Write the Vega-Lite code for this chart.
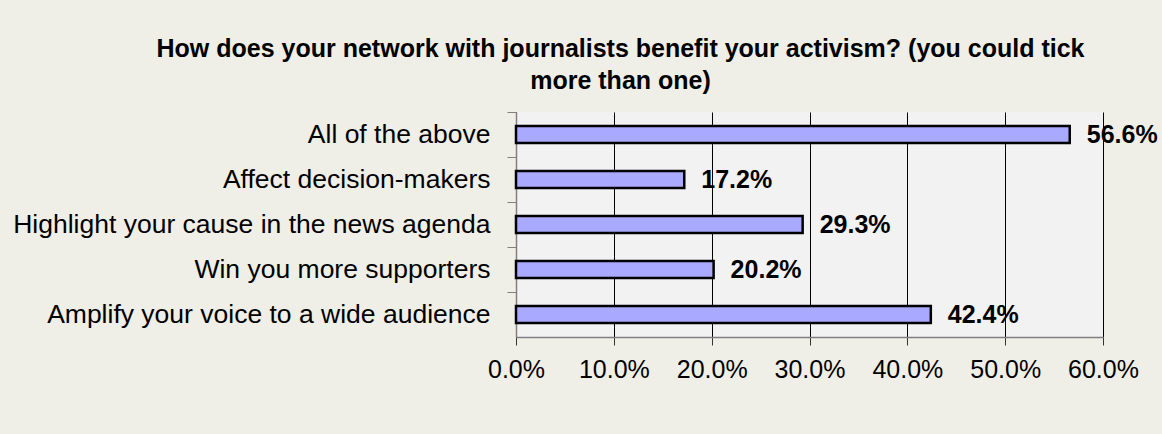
{
  "$schema": "https://vega.github.io/schema/vega-lite/v6.json",
  "autosize": "none",
  "width": 587,
  "height": 225,
  "padding": {"left": 516, "top": 112, "right": 59, "bottom": 97},
  "background": "#EFEEE7",
  "title": {
    "text": ["How does your network with journalists benefit your activism? (you could tick", "more than one)"],
    "font": "Liberation Sans",
    "fontSize": 25,
    "fontWeight": "bold",
    "color": "#000000",
    "anchor": "middle",
    "frame": "group",
    "dx": -189,
    "offset": 18,
    "lineHeight": 32
  },
  "config": {
    "view": {"fill": "#F2F2F2", "stroke": null},
    "font": "Liberation Sans"
  },
  "data": {
    "values": [
      {"answer": "All of the above", "share": 0.566},
      {"answer": "Affect decision-makers", "share": 0.172},
      {"answer": "Highlight your cause in the news agenda", "share": 0.293},
      {"answer": "Win you more supporters", "share": 0.202},
      {"answer": "Amplify your voice to a wide audience", "share": 0.424}
    ]
  },
  "encoding": {
    "y": {
      "field": "answer",
      "type": "nominal",
      "sort": null,
      "title": null,
      "scale": {"paddingInner": 0, "paddingOuter": 0},
      "axis": {
        "bandPosition": 0,
        "labelFont": "Liberation Sans",
        "labelFontSize": 26.5,
        "labelColor": "#000000",
        "labelPadding": 17,
        "labelLimit": 600,
        "tickSize": 9,
        "tickColor": "#808080",
        "domainColor": "#808080",
        "domainWidth": 1.5,
        "grid": false
      }
    },
    "x": {
      "field": "share",
      "type": "quantitative",
      "title": null,
      "scale": {"domain": [0, 0.6], "nice": false},
      "axis": {
        "values": [0, 0.1, 0.2, 0.3, 0.4, 0.5, 0.6],
        "format": ".1%",
        "labelFont": "Liberation Sans",
        "labelFontSize": 25,
        "labelColor": "#000000",
        "labelPadding": 12,
        "labelFlush": false,
        "tickSize": 8,
        "tickColor": "#333333",
        "domainColor": "#808080",
        "domainWidth": 1.5,
        "grid": true,
        "gridColor": "#000000",
        "gridWidth": 1
      }
    }
  },
  "layer": [
    {
      "mark": {"type": "bar", "size": 17, "fill": "#A9A9FF", "stroke": "#000000", "strokeWidth": 2.5}
    },
    {
      "mark": {"type": "text", "align": "left", "baseline": "middle", "dx": 17, "fontSize": 25, "fontWeight": "bold", "font": "Liberation Sans", "color": "#000000"},
      "encoding": {
        "text": {"field": "share", "type": "quantitative", "format": ".1%"}
      }
    }
  ]
}
